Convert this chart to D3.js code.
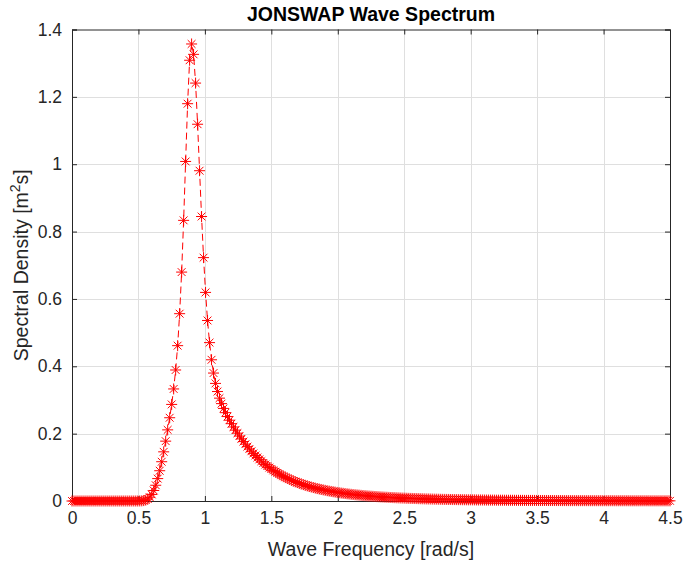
<!DOCTYPE html>
<html>
<head>
<meta charset="utf-8">
<script src="https://cdn.jsdelivr.net/npm/d3@7"></script>
<style>
html,body{margin:0;padding:0;background:#fff;}
svg{display:block;}
text{font-family:Helvetica, Arial, "Liberation Sans", sans-serif;}
</style>
</head>
<body>
<svg id="chart" width="686" height="566"></svg>
<script>
// ---- data ----
const freqStart = 0;       // rad/s, first sample
const freqStep = 0.015;    // rad/s, sampling interval
const spectralDensity = [
  0,0,0,0,0,0,0,0,0,0,                                                  // 0.000
  0,0,0,0,0,0,0,0,0,0,                                                  // 0.150
  0,0,0,0,0,0,0,0,0,0,                                                  // 0.300
  0,0,0,0,0.0001,0.0004,0.0012,0.0028,0.0060,0.0113,                    // 0.450
  0.0195,0.0312,0.0468,0.0665,0.0899,0.1166,0.1460,0.1777,0.2112,0.2472, // 0.600
  0.2868,0.3327,0.3890,0.4613,0.5562,0.6797,0.8333,1.0082,1.1797,1.3087, // 0.750
  1.3570,1.3262,1.2409,1.1187,0.9807,0.8447,0.7226,0.6194,0.5360,0.4703, // 0.900
  0.4193,0.3799,0.3492,0.3250,0.3054,0.2891,0.2749,0.2623,0.2507,0.2399, // 1.050
  0.2296,0.2198,0.2104,0.2014,0.1928,0.1844,0.1764,0.1688,0.1614,0.1544, // 1.200
  0.1477,0.1412,0.1351,0.1292,0.1236,0.1182,0.1131,0.1082,0.1036,0.0992, // 1.350
  0.0949,0.0909,0.0870,0.0834,0.0799,0.0765,0.0734,0.0703,0.0674,0.0647, // 1.500
  0.0620,0.0595,0.0571,0.0548,0.0527,0.0506,0.0486,0.0467,0.0449,0.0431, // 1.650
  0.0415,0.0399,0.0384,0.0369,0.0356,0.0342,0.0330,0.0317,0.0306,0.0295, // 1.800
  0.0284,0.0274,0.0264,0.0255,0.0246,0.0237,0.0229,0.0221,0.0213,0.0206, // 1.950
  0.0199,0.0192,0.0186,0.0180,0.0174,0.0168,0.0162,0.0157,0.0152,0.0147, // 2.100
  0.0142,0.0138,0.0134,0.0129,0.0125,0.0121,0.0118,0.0114,0.0111,0.0107, // 2.250
  0.0104,0.0101,0.0098,0.0095,0.0092,0.0089,0.0087,0.0084,0.0082,0.0079, // 2.400
  0.0077,0.0075,0.0073,0.0071,0.0069,0.0067,0.0065,0.0063,0.0061,0.0060, // 2.550
  0.0058,0.0057,0.0055,0.0054,0.0052,0.0051,0.0049,0.0048,0.0047,0.0046, // 2.700
  0.0045,0.0043,0.0042,0.0041,0.0040,0.0039,0.0038,0.0037,0.0036,0.0035, // 2.850
  0.0035,0.0034,0.0033,0.0032,0.0031,0.0031,0.0030,0.0029,0.0028,0.0028, // 3.000
  0.0027,0.0026,0.0026,0.0025,0.0025,0.0024,0.0024,0.0023,0.0023,0.0022, // 3.150
  0.0022,0.0021,0.0021,0.0020,0.0020,0.0019,0.0019,0.0018,0.0018,0.0018, // 3.300
  0.0017,0.0017,0.0017,0.0016,0.0016,0.0015,0.0015,0.0015,0.0015,0.0014, // 3.450
  0.0014,0.0014,0.0013,0.0013,0.0013,0.0013,0.0012,0.0012,0.0012,0.0012, // 3.600
  0.0011,0.0011,0.0011,0.0011,0.0011,0.0010,0.0010,0.0010,0.0010,0.0010, // 3.750
  0.0009,0.0009,0.0009,0.0009,0.0009,0.0009,0.0008,0.0008,0.0008,0.0008, // 3.900
  0.0008,0.0008,0.0007,0.0007,0.0007,0.0007,0.0007,0.0007,0.0007,0.0007, // 4.050
  0.0006,0.0006,0.0006,0.0006,0.0006,0.0006,0.0006,0.0006,0.0006,0.0006, // 4.200
  0.0005,0.0005,0.0005,0.0005,0.0005,0.0005,0.0005,0.0005,0.0005,0.0005, // 4.350
  0.0005                                                                // 4.500
];
const xTicks = [0, 0.5, 1, 1.5, 2, 2.5, 3, 3.5, 4, 4.5];
const xTickLabels = ["0", "0.5", "1", "1.5", "2", "2.5", "3", "3.5", "4", "4.5"];
const yTicks = [0, 0.2, 0.4, 0.6, 0.8, 1, 1.2, 1.4];
const yTickLabels = ["0", "0.2", "0.4", "0.6", "0.8", "1", "1.2", "1.4"];
const titleText = "JONSWAP Wave Spectrum";
const xLabelText = "Wave Frequency [rad/s]";

// ---- layout ----
const svg = d3.select("#chart");
const L = 72, R = 670, T = 29.5, B = 501;
const axisColor = "#262626", gridColor = "#dfdfdf", red = "#ff0000";

const points = spectralDensity.map((v, i) => ({ f: freqStart + i * freqStep, s: v }));

const x = d3.scaleLinear().domain([0, 4.5]).range([L, R]);
const y = d3.scaleLinear().domain([0, 1.4]).range([B, T]);

// grid
const grid = svg.append("g");
grid.selectAll(".gx").data(xTicks.slice(1, -1)).join("line")
  .attr("x1", d => Math.round(x(d)) + 0.5).attr("x2", d => Math.round(x(d)) + 0.5)
  .attr("y1", T).attr("y2", B)
  .attr("stroke", gridColor).attr("stroke-width", 1);
grid.selectAll(".gy").data(yTicks.slice(1, -1)).join("line")
  .attr("y1", d => Math.round(y(d)) + 0.5).attr("y2", d => Math.round(y(d)) + 0.5)
  .attr("x1", L).attr("x2", R)
  .attr("stroke", gridColor).attr("stroke-width", 1);

// axes (ticks inside, box on)
const fontTick = 17.5;
const xAxisB = d3.axisBottom(x).tickValues(xTicks).tickSize(-5).tickPadding(11)
  .tickFormat((d, i) => xTickLabels[i]);
const xAxisT = d3.axisTop(x).tickValues(xTicks).tickSize(-5).tickFormat("");
const yAxisL = d3.axisLeft(y).tickValues(yTicks).tickSize(-5).tickPadding(10)
  .tickFormat((d, i) => yTickLabels[i]);
const yAxisR = d3.axisRight(y).tickValues(yTicks).tickSize(-5).tickFormat("");

function styleAxis(g) {
  g.selectAll("path.domain").attr("stroke", axisColor).attr("stroke-width", 1);
  g.selectAll(".tick line").attr("stroke", axisColor).attr("stroke-width", 1);
  g.selectAll(".tick text").attr("fill", axisColor)
    .style("font-size", fontTick + "px")
    .style("font-family", "Helvetica, Arial, 'Liberation Sans', sans-serif");
  g.attr("font-family", null).attr("font-size", null);
}
svg.append("g").attr("transform", `translate(0,${B})`).call(xAxisB).call(styleAxis);
svg.append("g").attr("transform", `translate(0,${T})`).call(xAxisT).call(styleAxis);
svg.append("g").attr("transform", `translate(${L},0)`).call(yAxisL).call(styleAxis);
svg.append("g").attr("transform", `translate(${R},0)`).call(yAxisR).call(styleAxis);

// dashed line
const line = d3.line().x(d => x(d.f)).y(d => y(d.s));
svg.append("path").datum(points)
  .attr("d", line)
  .attr("fill", "none").attr("stroke", red).attr("stroke-width", 1)
  .attr("stroke-dasharray", "7,4");

// asterisk markers
const r = 5.5, rd = 3.9;
const star = `M${-r},0L${r},0M0,${-r}L0,${r}M${-rd},${-rd}L${rd},${rd}M${-rd},${rd}L${rd},${-rd}`;
svg.append("g").selectAll("path").data(points).join("path")
  .attr("transform", d => `translate(${x(d.f)},${y(d.s)})`)
  .attr("d", star)
  .attr("fill", "none").attr("stroke", red).attr("stroke-width", 1);

// title & labels
svg.append("text").attr("x", (L + R) / 2).attr("y", 21)
  .attr("text-anchor", "middle").attr("fill", "#000")
  .style("font-size", "19.5px").style("font-weight", "bold")
  .text(titleText);

svg.append("text").attr("x", (L + R) / 2).attr("y", 556)
  .attr("text-anchor", "middle").attr("fill", axisColor)
  .style("font-size", "19.5px")
  .text(xLabelText);

const yl = svg.append("text")
  .attr("transform", `translate(28,${(T + B) / 2}) rotate(-90)`)
  .attr("text-anchor", "middle").attr("fill", axisColor)
  .style("font-size", "19.5px");
yl.append("tspan").text("Spectral Density [m");
yl.append("tspan").attr("dy", -8).style("font-size", "14px").text("2");
yl.append("tspan").attr("dy", 8).text("s]");
</script>
</body>
</html>
